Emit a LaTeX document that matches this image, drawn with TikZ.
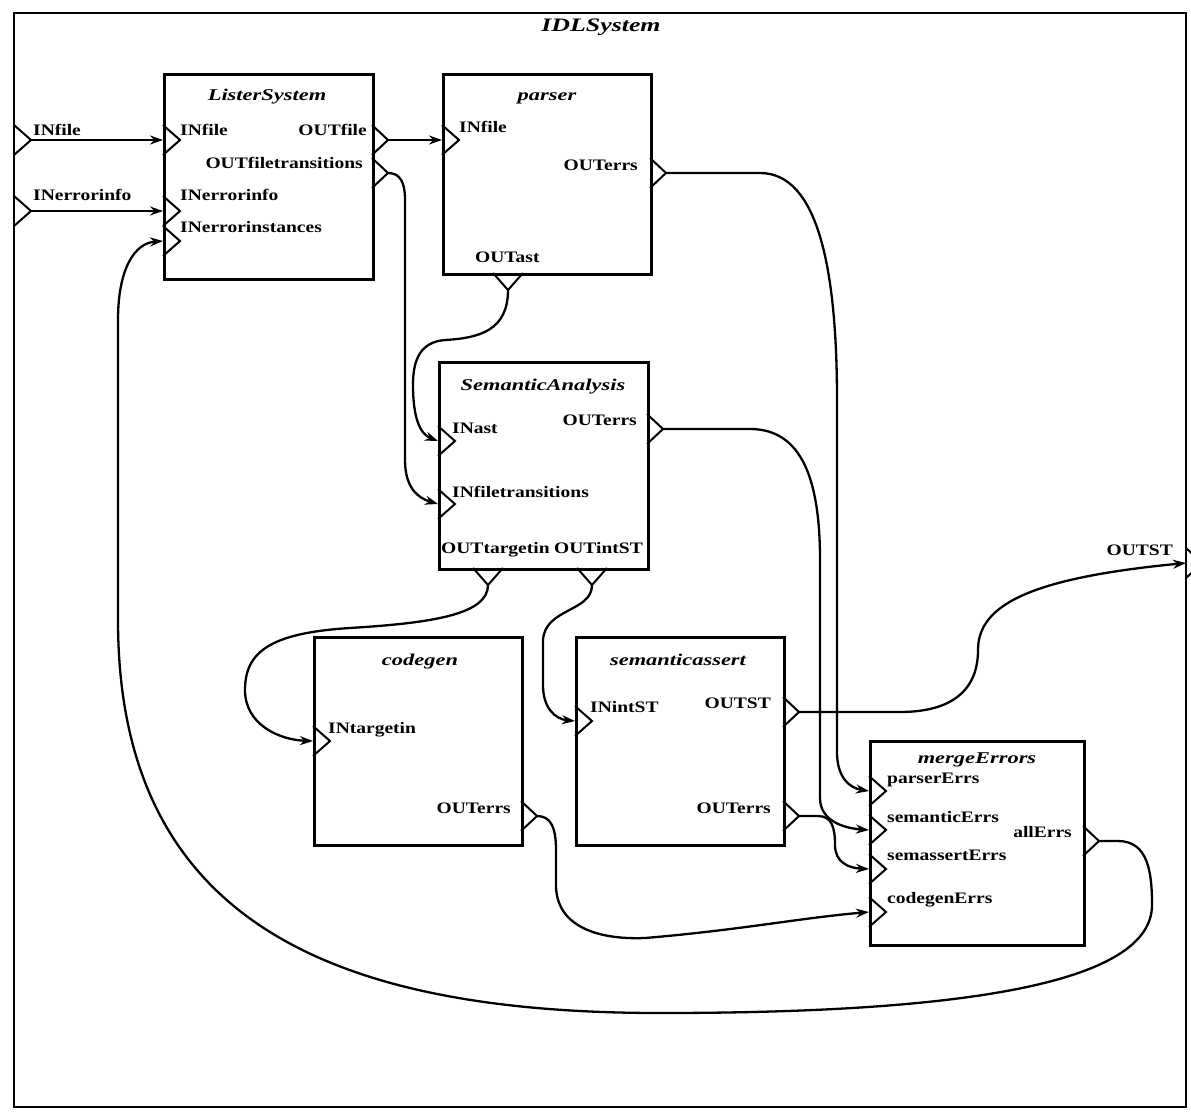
\documentclass[tikz,border=0pt]{standalone}
\usepackage{fontspec}
\usetikzlibrary{arrows.meta}
\newfontfamily\lblfont{Liberation Serif}[FakeStretch=1.22]
\newfontfamily\ttlfont{Liberation Serif}[FakeStretch=1.36]

% input port: triangle with its base on a left box edge, tip pointing inward
\newcommand\portIn[3]{%
  \draw[port] (#1,#2-15) -- (#1+17,#2) -- (#1,#2+15);
  \coordinate (#3) at (#1,#2);
  \coordinate (#3t) at (#1+17,#2);}
% output port on a right edge: triangle pointing outward
\newcommand\portOut[3]{%
  \draw[port] (#1,#2-15) -- (#1+16,#2) -- (#1,#2+15);
  \coordinate (#3) at (#1+16,#2);
  \coordinate (#3b) at (#1,#2);}
% output port on a bottom edge: triangle pointing down
\newcommand\portDown[3]{%
  \draw[port] (#1-15,#2) -- (#1,#2+17) -- (#1+15,#2);
  \coordinate (#3) at (#1,#2+17);}

\tikzset{
  box/.style={draw, line width=2.8pt, inner sep=0pt, anchor=north west},
  frame/.style={draw, line width=2.6pt},
  port/.style={line width=2pt, line join=miter},
  conn/.style={line width=2.3pt, -{Stealth[length=13pt,width=9pt]}},
  lbl/.style={font=\lblfont\bfseries\fontsize{16}{16}\selectfont, inner sep=0pt},
  ttl/.style={font=\ttlfont\bfseries\itshape\fontsize{16.5}{16.5}\selectfont, inner sep=0pt, anchor=base},
  bigttl/.style={font=\ttlfont\bfseries\itshape\fontsize{19}{19}\selectfont, inner sep=0pt, anchor=base},
}

\begin{document}
\begin{tikzpicture}[x=1pt,y=-1pt]
\fill[white] (0,0) rectangle (1191,1112);
\useasboundingbox (0,0) rectangle (1191,1112);

% enclosing system
\draw[frame] (14,13) rectangle (1186,1107);
\node[bigttl] (sysTitle) at (601,31) {IDLSystem};
\portIn{14}{140}{oInFile}
\portIn{14}{211}{oInErr}
\portOut{1186}{563}{oOutST}
\node[lbl, anchor=base west] (oInFileL) at (33,135) {INfile};
\node[lbl, anchor=base west] (oInErrL) at (33,200) {INerrorinfo};
\node[lbl, anchor=base east] (oOutSTL) at (1173,555) {OUTST};

% ListerSystem
\node[box, minimum width=209pt, minimum height=205pt] (lister) at (163,73) {};
\node[ttl] (listerT) at (267,100) {ListerSystem};
\portIn{163}{140}{lInFile}
\portIn{163}{211}{lInErr}
\portIn{163}{241}{lInInst}
\portOut{372}{140}{lOutFile}
\portOut{372}{173}{lOutTr}
\node[lbl, anchor=base west] (lInFileL) at (180,135) {INfile};
\node[lbl, anchor=base east] (lOutFileL) at (367,135) {OUTfile};
\node[lbl, anchor=base east] (lOutTrL) at (363,168) {OUTfiletransitions};
\node[lbl, anchor=base west] (lInErrL) at (180,200) {INerrorinfo};
\node[lbl, anchor=base west] (lInInstL) at (180,232) {INerrorinstances};

% parser
\node[box, minimum width=208pt, minimum height=200pt] (parser) at (442,73) {};
\node[ttl] (parserT) at (547,100) {parser};
\portIn{442}{140}{pInFile}
\portOut{650}{173}{pOutErrs}
\portDown{508}{273}{pOutAst}
\node[lbl, anchor=base west] (pInFileL) at (459,132) {INfile};
\node[lbl, anchor=base east] (pOutErrsL) at (638,170) {OUTerrs};
\node[lbl, anchor=base west] (pOutAstL) at (475,262) {OUTast};

% SemanticAnalysis
\node[box, minimum width=209pt, minimum height=207pt] (sa) at (438,361) {};
\node[ttl] (saT) at (543,390) {SemanticAnalysis};
\portIn{438}{441}{saInAst}
\portIn{438}{504}{saInTr}
\portOut{647}{429}{saOutErrs}
\portDown{488}{568}{saOutTgt}
\portDown{592}{568}{saOutInt}
\node[lbl, anchor=base west] (saInAstL) at (452,433) {INast};
\node[lbl, anchor=base east] (saOutErrsL) at (637,425) {OUTerrs};
\node[lbl, anchor=base west] (saInTrL) at (452,497) {INfiletransitions};
\node[lbl, anchor=base west] (saOutTgtL) at (441,553) {OUTtargetin};
\node[lbl, anchor=base east] (saOutIntL) at (643,553) {OUTintST};

% codegen
\node[box, minimum width=208pt, minimum height=208pt] (codegen) at (313,636) {};
\node[ttl] (codegenT) at (420,665) {codegen};
\portIn{313}{741}{cInTgt}
\portOut{521}{816}{cOutErrs}
\node[lbl, anchor=base west] (cInTgtL) at (328,733) {INtargetin};
\node[lbl, anchor=base east] (cOutErrsL) at (511,813) {OUTerrs};

% semanticassert
\node[box, minimum width=208pt, minimum height=208pt] (sassert) at (575,636) {};
\node[ttl] (sassertT) at (678,665) {semanticassert};
\portIn{575}{721}{sInInt}
\portOut{783}{712}{sOutST}
\portOut{783}{816}{sOutErrs}
\node[lbl, anchor=base west] (sInIntL) at (590,712) {INintST};
\node[lbl, anchor=base east] (sOutSTL) at (771,708) {OUTST};
\node[lbl, anchor=base east] (sOutErrsL) at (771,813) {OUTerrs};

% mergeErrors
\node[box, minimum width=214pt, minimum height=204pt] (merge) at (869,740) {};
\node[ttl] (mergeT) at (977,763) {mergeErrors};
\portIn{869}{791}{mParser}
\portIn{869}{830}{mSem}
\portIn{869}{869}{mAssert}
\portIn{869}{912}{mCodegen}
\portOut{1083}{841}{mOutAll}
\node[lbl, anchor=base west] (mParserL) at (887,783) {parserErrs};
\node[lbl, anchor=base west] (mSemL) at (887,822) {semanticErrs};
\node[lbl, anchor=base west] (mAssertL) at (887,860) {semassertErrs};
\node[lbl, anchor=base west] (mCodegenL) at (887,903) {codegenErrs};
\node[lbl, anchor=base east] (mOutAllL) at (1072,837) {allErrs};

% connections
\draw[conn] (oInFilet) -- (lInFile);
\draw[conn] (oInErrt) -- (lInErr);
\draw[conn] (lOutFile) -- (pInFile);
\draw[conn] (lOutTr) .. controls (400,173) and (405,182) .. (405,200)
  -- (405,460) .. controls (405,488) and (418,498) .. (saInTr);
\draw[conn] (pOutAst) .. controls (508,330) and (480,338) .. (445,340)
  .. controls (420,342) and (413,360) .. (413,385)
  .. controls (413,418) and (420,434) .. (saInAst);
\draw[conn] (pOutErrs) -- (760,173) .. controls (812,173) and (837,250) .. (837,400)
  -- (837,752) .. controls (837,778) and (850,788) .. (mParser);
\draw[conn] (saOutErrs) -- (750,429) .. controls (802,429) and (820,480) .. (820,560)
  -- (820,798) .. controls (820,820) and (842,828) .. (mSem);
\draw[conn] (sOutErrs) -- (818,816) .. controls (832,816) and (835,828) .. (835,845)
  .. controls (835,862) and (848,868) .. (mAssert);
\draw[conn] (cOutErrs) .. controls (550,816) and (556,826) .. (556,850)
  -- (556,885) .. controls (556,925) and (595,940) .. (645,938)
  .. controls (740,930) and (800,918) .. (mCodegen);
\draw[conn] (mOutAll) -- (1118,841) .. controls (1148,841) and (1152,872) .. (1152,905)
  .. controls (1152,990) and (930,1013) .. (660,1013)
  .. controls (330,1013) and (118,920) .. (118,620)
  -- (118,320) .. controls (118,268) and (135,243) .. (lInInst);
\draw[conn] (saOutTgt) .. controls (488,615) and (430,623) .. (350,628)
  .. controls (270,633) and (245,652) .. (245,690)
  .. controls (245,725) and (280,740) .. (cInTgt);
\draw[conn] (saOutInt) .. controls (592,612) and (545,608) .. (543,640)
  -- (543,685) .. controls (543,708) and (555,719) .. (sInInt);
\draw[conn] (sOutST) -- (900,712) .. controls (952,712) and (978,690) .. (978,650)
  .. controls (978,605) and (1030,578) .. (oOutSTb);
\end{tikzpicture}
\end{document}
